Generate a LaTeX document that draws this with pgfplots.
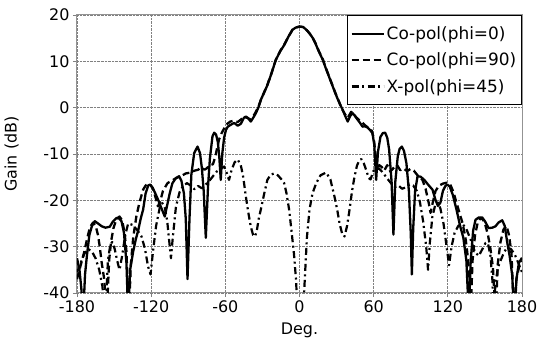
\documentclass[border=0pt]{standalone}
\usepackage{fontspec}
\setmainfont{DejaVu Sans}
\usepackage{pgfplots}
\pgfplotsset{compat=1.18}
\begin{document}
\begin{tikzpicture}
\begin{axis}[
 scale only axis, width=445bp, height=278bp,
 xmin=-180, xmax=180, ymin=-40, ymax=20,
 xtick={-180,-120,-60,0,60,120,180}, xticklabels={-180,-120,-60,0,60,120,180},
 ytick={-40,-30,-20,-10,0,10,20}, yticklabels={-40,-30,-20,-10,0,10,20},
 tick pos=left, tick align=outside, major tick length=4bp,
 tick style={gray, line width=0.8bp},
 axis line style={draw=gray!85, line width=1bp},
 grid=major, major grid style={densely dotted, gray, line width=0.7bp},
 ticklabel style={font=\fontsize{16}{19}\selectfont},
 label style={font=\fontsize{16}{19}\selectfont},
 xlabel={Deg.}, ylabel={Gain (dB)},
 xlabel style={at={(axis description cs:0.5,-0.135)}, anchor=center},
 ylabel style={at={(axis description cs:-0.147,0.5)}, anchor=center},
 legend style={at={(1,1)}, anchor=north east, draw=black, line width=1.4bp, fill=white,
   font=\fontsize{17}{20}\selectfont, inner xsep=3bp, inner ysep=9bp, row sep=8bp},
 legend cell align=left,
 legend image code/.code={\draw[#1] (0bp,0bp) -- (32bp,0bp);},
 every axis plot/.append style={line join=round},
]
\addplot[black, line width=2.3bp, solid] coordinates {
(-180,-32.5) (-178,-35) (-176.5,-39) (-175,-45) (-173.5,-36) (-172,-32) (-170,-27.5) (-168,-25.6) (-165.6,-24.5) (-163,-25) (-160,-25.6) (-157,-25.9) (-153.5,-25.7) (-151,-24.6) (-148,-23.8) (-146,-23.9) (-144,-24.5) (-142,-27) (-140,-33.5) (-138.6,-45) (-137,-35) (-134.5,-31) (-132.5,-28.5) (-130.5,-26.5) (-128.5,-24) (-126.5,-22) (-124.5,-18.5) (-122.4,-16.8) (-121,-16.6) (-119,-17.2) (-117,-18.3) (-115,-19.5) (-112,-21.5) (-109,-23.5) (-107,-21) (-105,-18.5) (-102.8,-16.3) (-100,-15.2) (-97.4,-14.8) (-95.5,-15.8) (-93.5,-18.5) (-92,-24) (-90.6,-37) (-89,-24) (-87.5,-14.5) (-85.2,-9.8) (-82.5,-8.4) (-80.5,-9.8) (-79,-13) (-77.5,-18) (-75.8,-28.1) (-74,-17) (-72.5,-11) (-70.4,-6.2) (-69,-5.4) (-67.5,-5.8) (-66,-7.5) (-64.8,-11) (-63.7,-15.6) (-62.5,-10) (-61,-6.5) (-59.5,-4.8) (-58,-4.1) (-55,-3.6) (-52.8,-3.3) (-50,-3.9) (-47.5,-3.5) (-45,-2.2) (-43.4,-1.9) (-41.5,-2.3) (-39.4,-3.0) (-37.5,-2.2) (-35.3,-1.2) (-33,0.2) (-31.3,1.7) (-28.5,3.3) (-25.9,4.9) (-22.5,7.5) (-19.2,10.3) (-15.5,12.2) (-12.4,13.5) (-9,15.3) (-5.7,16.8) (-3,17.3) (0,17.5) (3,17.4) (6,16.7) (8.5,15.9) (10.8,15) (13,13.8) (15.5,12.2) (18.9,10.3) (21,8.7) (24,6.6) (27,4.5) (29,3.1) (31,1.8) (33,0.6) (35,-0.5) (37,-1.8) (39,-3.0) (41,-1.8) (43,-1.2) (45,-1.8) (47,-2.6) (49,-3.3) (51,-4.1) (53,-4.0) (55,-4.3) (57,-4.8) (59,-5.5) (60.5,-8) (62,-15.6) (63.5,-9.5) (65.5,-6.3) (67.4,-5.5) (69.3,-5.4) (71,-6.5) (72.5,-9) (74.5,-16) (76,-27.4) (77.5,-16) (79.5,-10.5) (81,-8.9) (82.8,-8.4) (84.5,-9.3) (86.5,-12) (88.5,-18) (90,-27) (90.9,-36) (92,-26) (93.5,-18) (95.5,-14.8) (98,-14.9) (101,-15.6) (104,-16.6) (107.6,-17.7) (110,-19.9) (112,-21.2) (114,-20.5) (116,-18) (118,-16.9) (119.5,-16.6) (121.5,-17) (124,-18.8) (127,-22) (130,-25.6) (132.5,-28) (135,-33) (137,-45) (138.5,-33) (140.5,-26.5) (142.4,-24.2) (145,-23.7) (147.8,-23.7) (150,-24.5) (153,-26) (156,-25.9) (158.6,-25.6) (161,-24.8) (164,-24.3) (166,-25.5) (168,-29) (170,-32) (172,-36) (174,-45) (175.5,-37) (177.5,-33.5) (180,-32.4)
};
\addlegendentry{Co-pol(phi=0)}
\addplot[black, line width=2.3bp, dash pattern=on 7bp off 4bp] coordinates {
(-180,-37) (-178,-35) (-176,-33) (-174,-31) (-172,-28.5) (-169.5,-25.8) (-167,-24.8) (-165,-25.4) (-163,-27.5) (-161.6,-30) (-160,-33.5) (-158,-37) (-156,-45) (-154,-33) (-152.5,-29) (-150.5,-26) (-148,-24) (-145.6,-23.5) (-143.5,-24.3) (-141.5,-27) (-140,-31) (-138,-45) (-136.5,-34) (-134.5,-28) (-132,-23.5) (-129.5,-20.5) (-126.5,-17.7) (-124.5,-16.8) (-122.5,-16.4) (-120.5,-16.7) (-118.5,-17.5) (-116,-19.8) (-114.5,-21.3) (-112.5,-20) (-110.5,-18) (-106.8,-16.3) (-103,-15.7) (-99,-15.1) (-96,-14.8) (-92,-14.2) (-88,-14.0) (-85,-13.6) (-82,-13.4) (-79.5,-12.9) (-77,-13.4) (-75,-13.1) (-73,-12.5) (-70,-12.2) (-68,-10.5) (-66.5,-8.5) (-65,-6.8) (-63,-5.5) (-61,-4.5) (-59,-3.6) (-56,-3.0) (-53,-2.8) (-50,-3.1) (-47.5,-2.6) (-45,-2.0) (-42,-2.2) (-39.5,-2.6) (-37.5,-1.9) (-35.5,-1.0) (-33,0.4) (-31,1.8) (-28.5,3.4) (-25.9,5.0) (-22.5,7.6) (-19.2,10.3) (-15.5,12.3) (-12.4,13.6) (-9,15.3) (-5.7,16.8) (-3,17.3) (0,17.5) (3,17.4) (6,16.7) (8.5,15.9) (10.8,15) (13,13.9) (15.5,12.3) (18.9,10.4) (21,8.8) (24,6.7) (27,4.6) (29,3.2) (31,1.9) (33,0.6) (35,-0.6) (37,-1.5) (39,-2.2) (41.8,-0.9) (43.5,-1.3) (45.5,-2.0) (47.5,-2.5) (50,-3.0) (53,-3.8) (56,-4.4) (58.5,-5.0) (60,-6.5) (61.5,-10) (63,-13.5) (64.5,-12.4) (66.5,-12.8) (68.5,-13.6) (71,-12.4) (73.5,-13.8) (76.5,-12.9) (79,-12.4) (81.5,-13.5) (84,-13.1) (87,-13.7) (90,-13.2) (92.5,-13.6) (95.5,-14.6) (99.5,-15.6) (102,-17.5) (104.5,-20.5) (106,-22.7) (107.8,-20.5) (110,-18) (113,-16.8) (116,-16.4) (119,-16.2) (122,-16.6) (124.5,-18.2) (127,-20.5) (129.5,-22.8) (132,-25) (134.5,-28.5) (136.5,-33) (138.3,-45) (140,-33) (142,-27.5) (144,-25) (146.5,-23.8) (148.5,-24.2) (150.5,-25.5) (152.5,-27.5) (154.5,-30.5) (156.5,-34.5) (158.6,-45) (160.5,-33.5) (162.6,-29) (165,-26.3) (167.5,-25.5) (169.5,-27.5) (171.5,-31.5) (173.5,-45) (175.5,-37) (177.5,-34.5) (180,-33)
};
\addlegendentry{Co-pol(phi=90)}
\addplot[black, line width=2.2bp, dash pattern=on 7bp off 3.5bp on 2bp off 3.5bp] coordinates {
(-180,-35.5) (-177,-33.5) (-174,-31.5) (-171,-30.5) (-168,-31) (-165,-32.5) (-162,-35) (-159.5,-38.5) (-157,-45) (-155,-33) (-153,-29.5) (-151.5,-29) (-149.5,-30.5) (-147.5,-33) (-145.6,-35) (-143.5,-32) (-141,-27.5) (-138.6,-25) (-135,-25.3) (-131,-26.5) (-127.8,-27.8) (-125,-30.5) (-122.5,-34.3) (-120.5,-36) (-118.5,-31) (-116,-25.5) (-113,-21.5) (-111,-20.6) (-109,-21.5) (-107,-24.5) (-105.5,-28.5) (-104,-32.5) (-102.5,-28) (-100,-21.5) (-97,-18.2) (-94,-16.8) (-91,-16.3) (-88,-16.8) (-85,-17.6) (-82,-16.9) (-79,-17.4) (-76,-16.6) (-73,-15.8) (-70,-14.8) (-67,-13.8) (-64,-13.2) (-61,-12.7) (-59,-14) (-57,-15.6) (-55,-13.5) (-52.5,-11.8) (-50,-11.2) (-47.5,-12.4) (-45.5,-15) (-43.4,-19.2) (-41.5,-22.5) (-39.4,-25.7) (-37.5,-27.5) (-36,-27.8) (-34.5,-26.5) (-33,-24) (-31.3,-22) (-28.5,-18.5) (-26,-15.6) (-23.5,-14.5) (-20.5,-14.2) (-17.5,-14.6) (-14.5,-15.5) (-12.4,-16.3) (-10.5,-18.5) (-8.4,-22) (-6.5,-26.5) (-4.5,-31.5) (-2.7,-37.5) (-1,-50) (1.5,-50) (4,-38.5) (6,-28) (8.1,-22) (10.5,-18.5) (13.5,-16.3) (17,-14.6) (21.6,-14) (25,-15.5) (28.3,-19.2) (30.5,-22) (32.4,-25) (34.5,-27.2) (36.4,-27.8) (38.5,-25.5) (40.5,-22) (42.5,-18) (44.5,-14.9) (46.5,-12.5) (48.5,-11.3) (50,-11.1) (52,-12) (54,-13.5) (56,-15.2) (57.5,-15.5) (59.5,-13.8) (62,-13) (65,-13.3) (68,-14.2) (71,-15.3) (74,-16.3) (77,-17.2) (80,-16.8) (83,-17.5) (86,-17.2) (89,-16.6) (92,-16.8) (95,-18) (97.5,-20.5) (100,-24.5) (102.5,-30) (104,-35) (105.5,-29) (107.5,-23.5) (110,-20.8) (112,-20.5) (114,-21.8) (116.5,-25) (119,-30) (121,-34) (123,-30) (125.5,-27) (128.5,-25.5) (131.6,-25) (135,-26.2) (138.5,-28.5) (142,-31.2) (145,-32) (148,-30.5) (150.5,-29.2) (152.5,-29.3) (154.5,-32) (156,-37) (157,-45) (158.5,-38) (160.5,-34.5) (163,-32.8) (165.5,-31.2) (168,-30.2) (171,-30.5) (174,-31.6) (177,-33.5) (180,-35.5)
};
\addlegendentry{X-pol(phi=45)}
\end{axis}
\pgfresetboundingbox
\path (current axis.south west) ++(-77bp,-55bp) rectangle ([xshift=16bp,yshift=15bp]current axis.north east);
\end{tikzpicture}
\end{document}
